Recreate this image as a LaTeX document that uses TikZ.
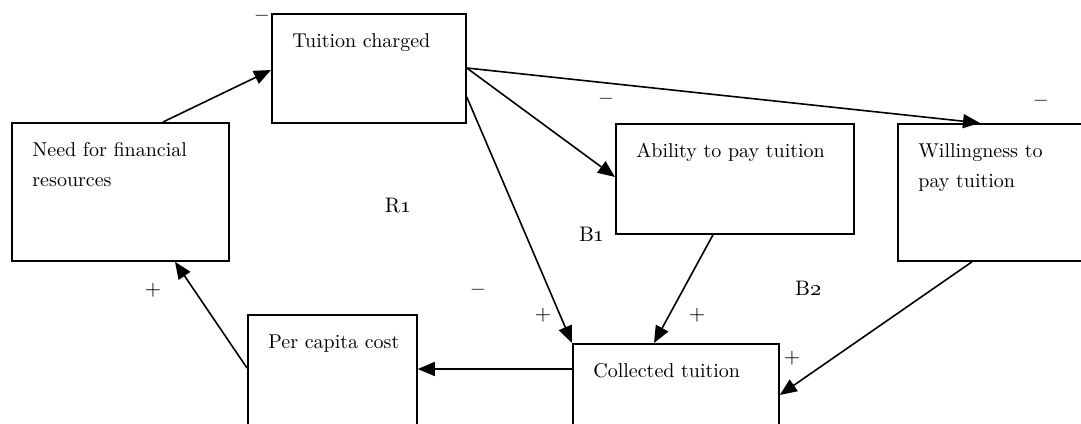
\documentclass[tikz,border=0pt]{standalone}
\usepackage{tikz}
\usetikzlibrary{arrows.meta, calc}

\begin{document}
\begin{tikzpicture}[
    x=0.5pt, y=-0.5pt,
    box/.style={rectangle, draw, line width=0.9pt, anchor=north west, inner sep=0pt},
    txt/.style={anchor=north west, align=left, inner sep=0pt, xshift=10.5pt, yshift=-10pt, font=\fontsize{10}{15}\selectfont},
    sign/.style={inner sep=0pt, font=\fontsize{10.5}{12}\selectfont},
    loop/.style={inner sep=0pt, font=\fontsize{10.5}{12}\selectfont},
    arrow/.style={-{Triangle[length=8.5pt, width=7pt]}, line width=0.8pt},
    every node/.style={font=\fontsize{10}{15}\selectfont}
]
\clip (0,0) rectangle (1081,423);

% Boxes
\node[box, minimum width=108.5pt, minimum height=69pt,
    label={[txt]north west:Need for financial\\resources}] (need) at (11,122) {};
\node[box, minimum width=97pt, minimum height=54.5pt,
    label={[txt]north west:Tuition charged}] (charged) at (271,13) {};
\node[box, minimum width=119pt, minimum height=55pt,
    label={[txt]north west:Ability to pay tuition}] (ability) at (615,123) {};
\node[box, minimum width=115pt, minimum height=68.5pt,
    label={[txt]north west:Willingness to\\pay tuition}] (willing) at (897,123) {};
\node[box, minimum width=84.5pt, minimum height=68pt,
    label={[txt]north west:Per capita cost}] (cost) at (247,314) {};
\node[box, minimum width=103pt, minimum height=58.5pt,
    label={[txt]north west:Collected tuition}] (collected) at (572,343) {};

% Loop names
\node[loop] (r1) at (398,206) {R\oldstylenums{1}};
\node[loop] (b1) at (592,234) {B\oldstylenums{1}};
\node[loop] (b2) at (808,288) {B\oldstylenums{2}};

% Signs
\node[sign] (s1) at (262,18) {\textbf{\textendash}};
\node[sign] (s2) at (1041,103) {\textbf{\textendash}};
\node[sign] (s3) at (606,101) {\textbf{\textendash}};
\node[sign] (s4) at (478,292) {\textbf{\textendash}};
\node[sign] (s5) at (153,290) {+};
\node[sign] (s6) at (543,315) {+};
\node[sign] (s7) at (697,315) {+};
\node[sign] (s8) at (792,358) {+};

% Arrows
\draw[arrow] ($(need.north west)+(152,0)$) -- ($(charged.north west)+(0,57)$);
\draw[arrow] ($(charged.north east)+(0,55)$) -- ($(willing.north west)+(83,0)$);
\draw[arrow] ($(charged.north east)+(0,55)$) -- ($(ability.north west)+(0,54)$);
\draw[arrow] ($(charged.north east)+(0,84)$) -- (collected.north west);
\draw[arrow] ($(ability.south west)+(98,0)$) -- ($(collected.north west)+(82,0)$);
\draw[arrow] ($(willing.south west)+(75,0)$) -- ($(collected.north east)+(0,52)$);
\draw[arrow] ($(collected.north west)+(0,26)$) -- ($(cost.north east)+(0,55)$);
\draw[arrow] ($(cost.north west)+(0,54)$) -- ($(need.south west)+(164,0)$);

\end{tikzpicture}
\end{document}
